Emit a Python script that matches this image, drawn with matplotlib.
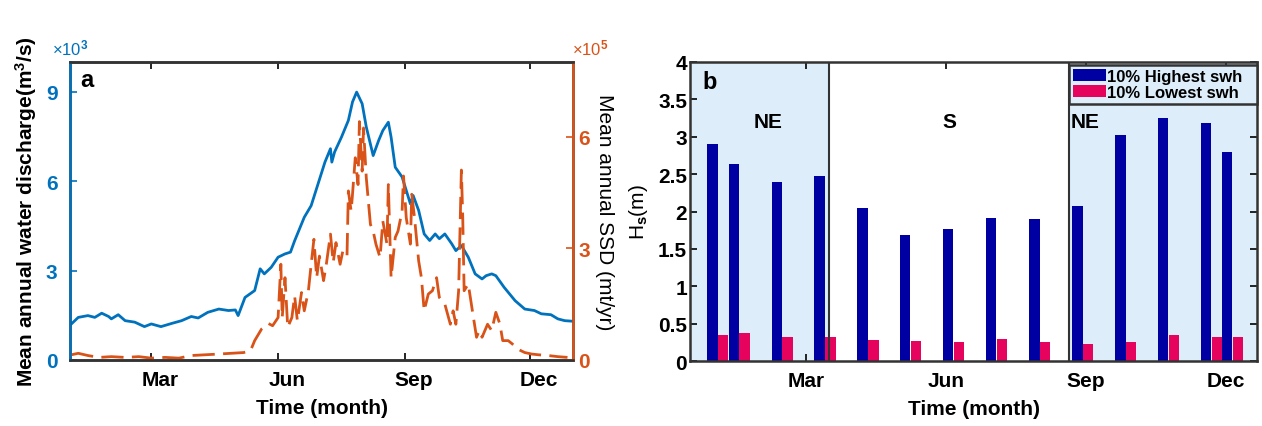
import numpy as np
import matplotlib.pyplot as plt
from matplotlib.transforms import ScaledTranslation

plt.rcParams['font.family'] = ['Liberation Sans', 'DejaVu Sans']
plt.rcParams['font.weight'] = 'bold'
plt.rcParams['axes.labelweight'] = 'bold'
plt.rcParams['mathtext.fontset'] = 'custom'
plt.rcParams['mathtext.rm'] = 'Liberation Sans'
plt.rcParams['mathtext.it'] = 'Liberation Sans'
plt.rcParams['mathtext.bf'] = 'Liberation Sans:bold'
plt.rcParams['mathtext.default'] = 'rm'

# discharge (x10^3 m3/s) by day of year
q_day = [1, 6, 13, 18, 23, 28, 30, 35, 40, 47, 54, 59, 66, 74, 81, 88, 93, 100, 108, 115,
         120, 122, 127, 134, 138, 141, 146, 151, 156, 160, 163, 170, 175, 180, 185, 189, 190, 192, 197, 202,
         205, 208, 212, 215, 220, 224, 227, 231, 233, 236, 241, 244, 247, 249, 253, 257, 261, 265, 268, 272,
         277, 280, 284, 289, 294, 299, 302, 306, 309, 315, 323, 330, 337, 342, 349, 354, 359, 365]
q_val = [1.21, 1.43, 1.49, 1.43, 1.57, 1.46, 1.38, 1.52, 1.32, 1.27,
         1.12, 1.21, 1.12, 1.23, 1.32, 1.46, 1.41, 1.60, 1.71, 1.66,
         1.68, 1.49, 2.10, 2.33, 3.06, 2.89, 3.11, 3.45, 3.56, 3.62,
         4.00, 4.79, 5.18, 5.91, 6.64, 7.09, 6.64, 6.98, 7.48, 8.04,
         8.66, 8.99, 8.60, 7.82, 6.86, 7.37, 7.70, 7.98, 7.48, 6.47,
         6.14, 5.69, 5.24, 5.52, 5.02, 4.23, 4.01, 4.23, 4.07, 4.23,
         3.90, 3.67, 3.84, 3.45, 2.89, 2.72, 2.83, 2.89, 2.83, 2.44,
         1.99, 1.71, 1.66, 1.55, 1.52, 1.38, 1.32, 1.30]

# suspended sediment discharge (x10^5 mt/yr)
ssd_day = [1, 6, 13, 21, 30, 40, 50, 59, 69, 79, 88, 98, 108, 117, 126, 131, 134, 139, 144, 147,
           151, 153, 154, 156, 158, 161, 163, 165, 168, 170, 173, 175, 177, 179, 181, 184, 186, 189, 191, 193,
           196, 198, 201, 202, 204, 205, 207, 209, 210, 212, 213, 215, 218, 220, 222, 225, 227, 230, 231, 233,
           236, 238, 241, 242, 244, 247, 248, 250, 253, 255, 257, 260, 263, 266, 268, 272, 276, 278, 280, 282,
           284, 285, 286, 289, 292, 295, 297, 299, 303, 306, 309, 312, 314, 318, 321, 325, 330, 335, 340, 347,
           354, 361]
ssd_val = [0.14, 0.18, 0.12, 0.07, 0.09, 0.07, 0.09, 0.05, 0.07, 0.05,
           0.12, 0.14, 0.16, 0.18, 0.20, 0.25, 0.52, 0.83, 0.98, 0.92,
           1.14, 2.57, 1.14, 2.21, 0.88, 1.14, 1.72, 1.05, 1.81, 1.32,
           1.86, 2.57, 3.24, 2.21, 2.79, 2.13, 2.57, 3.38, 2.62, 3.15,
           2.57, 2.93, 2.79, 4.54, 4.00, 4.45, 5.43, 4.71, 6.40, 5.07,
           6.23, 4.89, 3.64, 3.46, 3.11, 2.75, 3.73, 3.11, 4.71, 2.21,
           3.29, 3.46, 4.00, 4.94, 3.82, 3.11, 4.45, 3.82, 2.66, 2.21,
           1.32, 1.77, 1.86, 2.21, 1.68, 1.50, 0.96, 1.32, 0.96, 1.86,
           5.10, 3.82, 1.86, 2.04, 1.32, 0.61, 0.79, 0.61, 0.96, 0.79,
           1.28, 0.96, 0.52, 0.52, 0.43, 0.29, 0.20, 0.16, 0.14, 0.12,
           0.09, 0.07]

month_days = [59, 151, 243, 334]
month_labels = ['Mar', 'Jun', 'Sep', 'Dec']

# significant wave height (m), positions in months
swh_pos = [1.00, 1.46, 2.38, 3.30, 4.22, 5.13, 6.05, 6.97, 7.90, 8.82, 9.74, 10.66, 11.58, 12.03]
swh_high = [2.90, 2.64, 2.39, 2.48, 2.05, 1.69, 1.76, 1.91, 1.90, 2.07, 3.03, 3.25, 3.18, 2.79]
swh_low = [0.35, 0.38, 0.32, 0.32, 0.28, 0.27, 0.26, 0.29, 0.25, 0.23, 0.26, 0.35, 0.32, 0.32]
month_pos = [3, 6, 9, 12]
ne_end, ne_start = 3.5, 8.64

c_q = '#0072bd'
c_ssd = '#d95319'
c_high = '#0000a2'
c_low = '#e6035e'
c_shade = '#ddeefa'
c_edge = '#333333'
fs = 15

fig = plt.figure(figsize=(12.62, 4.27), dpi=100)

# ---- panel a
ax1 = fig.add_axes([70/1262, 1-361/427, 503/1262, 298/427])
ax2 = ax1.twinx()
ax1.plot(q_day, q_val, color=c_q, lw=2.0)
ax2.plot(ssd_day, ssd_val, color=c_ssd, lw=2.0, linestyle=(0, (8, 3)))
ax1.set_xlim(0, 365)
ax1.set_ylim(0, 10)
ax2.set_ylim(0, 8)
ax1.set_xticks(month_days)
ax1.set_xticklabels(month_labels)
ax1.set_yticks([0, 3, 6, 9])
ax2.set_yticks([0, 3, 6])
ax1.tick_params(axis='x', direction='in', top=True, length=5, width=1.2, labelsize=fs, pad=7)
ax1.tick_params(axis='y', direction='in', colors=c_q, length=5, width=1.2, labelsize=fs, pad=9)
ax2.tick_params(axis='y', direction='in', colors=c_ssd, length=5, width=1.2, labelsize=fs, pad=4)
# month names sit a little right of their ticks
shift = ScaledTranslation(9/100, 0, fig.dpi_scale_trans)
for lab in ax1.get_xticklabels():
    lab.set_transform(lab.get_transform() + shift)
for ax in (ax1, ax2):
    for s in ax.spines.values():
        s.set_linewidth(1.8)
        s.set_color(c_edge)
ax2.spines['left'].set_color(c_q)
ax2.spines['right'].set_color(c_ssd)
ax1.set_ylabel('Mean annual water discharge(m$^{\\mathbf{3}}$/s)', fontsize=fs, labelpad=5)
ax2.set_ylabel('Mean annual SSD (mt/yr)', fontsize=fs, fontweight='normal', rotation=270, labelpad=17)
ax1.set_xlabel('Time (month)', fontsize=fs, labelpad=7)
ax1.text(-0.035, 1.015, '×10$^3$', transform=ax1.transAxes, color=c_q, fontsize=12,
         fontweight='normal', ha='left', va='bottom')
ax1.text(0.998, 1.015, '×10$^5$', transform=ax1.transAxes, color=c_ssd, fontsize=12,
         fontweight='normal', ha='left', va='bottom')
ax1.text(0.02, 0.94, 'a', transform=ax1.transAxes, fontsize=17, ha='left', va='center')

# ---- panel b
ax3 = fig.add_axes([690/1262, 1-362/427, 567/1262, 299/427])
xlo, xhi = 0.52, 12.67
ax3.axvspan(xlo, ne_end, color=c_shade, zorder=0, lw=0)
ax3.axvspan(ne_start, xhi, color=c_shade, zorder=0, lw=0)
ax3.axvline(ne_end, color=c_edge, lw=1.5, zorder=3)
ax3.axvline(ne_start, color=c_edge, lw=1.5, zorder=3)
bw = 0.225
pos = np.array(swh_pos)
b1 = ax3.bar(pos, swh_high, width=bw, color=c_high, zorder=2, label='10% Highest swh')
b2 = ax3.bar(pos + 0.232, swh_low, width=bw, color=c_low, zorder=2, label='10% Lowest swh')
ax3.set_xlim(xlo, xhi)
ax3.set_ylim(0, 4)
ax3.set_xticks(month_pos)
ax3.set_xticklabels(month_labels)
ax3.set_yticks(np.arange(0, 4.01, 0.5))
ax3.set_yticklabels(['0', '0.5', '1', '1.5', '2', '2.5', '3', '3.5', '4'])
ax3.tick_params(direction='in', top=True, right=True, length=5, width=1.2, labelsize=fs, pad=2)
ax3.tick_params(axis='x', pad=7)
for s in ax3.spines.values():
    s.set_linewidth(1.8)
    s.set_color(c_edge)
ax3.set_ylabel('H$_s$(m)', fontsize=fs, fontweight='normal', labelpad=6)
ax3.set_xlabel('Time (month)', fontsize=fs, labelpad=7)
ax3.text(0.94, 3.74, 'b', fontsize=17, ha='center', va='center')
ax3.text(2.19, 3.21, 'NE', fontsize=fs, ha='center', va='center')
ax3.text(6.07, 3.21, 'S', fontsize=fs, ha='center', va='center')
ax3.text(8.68, 3.21, 'NE', fontsize=fs, ha='left', va='center')
leg = ax3.legend(handles=[b1, b2], loc='lower left', mode='expand',
                 bbox_to_anchor=(ne_start, 3.44, xhi - ne_start, 4 - 3.44),
                 bbox_transform=ax3.transData, borderaxespad=0, fontsize=12,
                 handlelength=2.0, handleheight=0.7, handletextpad=0.05,
                 labelspacing=0.05, fancybox=False, framealpha=1, borderpad=0.25)
leg.get_frame().set_facecolor(c_shade)
leg.get_frame().set_edgecolor(c_edge)
leg.get_frame().set_linewidth(1.8)

fig.savefig('out.png', dpi=100)
